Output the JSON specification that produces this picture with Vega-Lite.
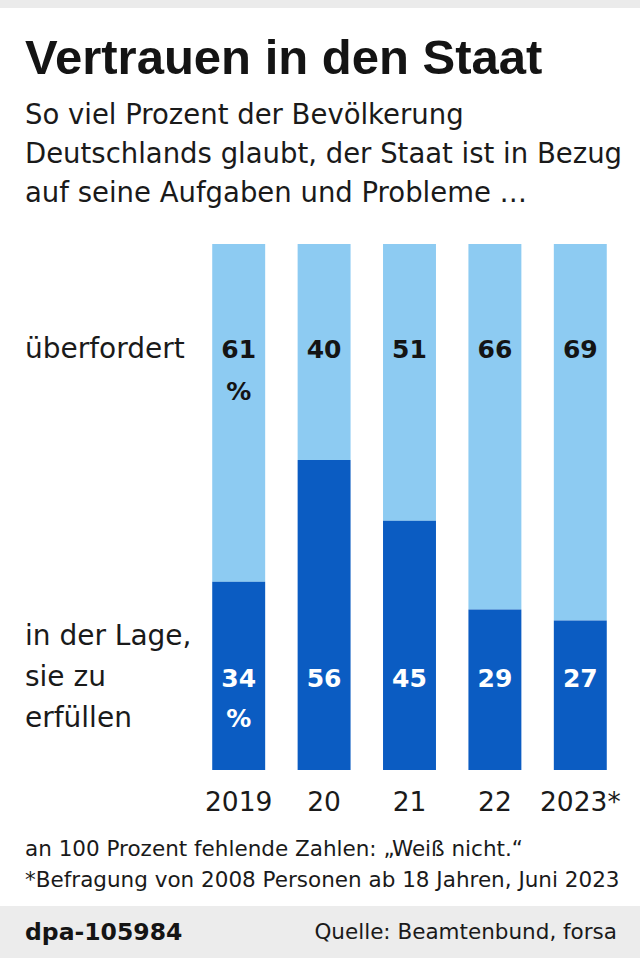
{
  "$schema": "https://vega.github.io/schema/vega-lite/v6.json",
  "padding": 0,
  "background": "white",
  "spacing": 17,
  "config": {"view": {"stroke": null}, "font": "DejaVu Sans"},
  "vconcat": [
    {
      "width": 640,
      "height": 8,
      "data": {"values": [{"band": "top"}]},
      "mark": {"type": "rect", "color": "#ebebeb"},
      "encoding": {},
      "title": {
        "text": "Vertrauen in den Staat",
        "orient": "bottom",
        "anchor": "start",
        "frame": "group",
        "dx": 25,
        "offset": 27,
        "baseline": "top",
        "font": "Liberation Sans",
        "fontSize": 49,
        "fontWeight": "bold",
        "color": "#141414"
      }
    },
    {
      "title": {
        "text": ["So viel Prozent der Bevölkerung", "Deutschlands glaubt, der Staat ist in Bezug", "auf seine Aufgaben und Probleme …"],
        "anchor": "start",
        "frame": "group",
        "dx": 25,
        "offset": 37,
        "baseline": "top",
        "font": "DejaVu Sans",
        "fontSize": 27.5,
        "fontWeight": "normal",
        "lineHeight": 39,
        "color": "#1a1a1a"
      },
      "spacing": 0,
      "hconcat": [
        {
          "width": 196,
          "height": 526,
          "layer": [
            {
              "data": {"values": [{"label": "überfordert"}]},
              "mark": {"type": "text", "align": "left", "baseline": "alphabetic", "fontSize": 28, "color": "#1a1a1a", "font": "DejaVu Sans"},
              "encoding": {
                "text": {"field": "label"},
                "x": {"datum": 0, "type": "quantitative", "scale": {"domain": [0, 1], "range": [25, 196]}, "axis": null},
                "y": {"datum": 74.4, "type": "quantitative", "scale": {"domain": [0, 95], "nice": false}, "axis": null}
              }
            },
            {
              "data": {"values": [{"label": "in der Lage,|sie zu|erfüllen"}]},
              "mark": {"type": "text", "align": "left", "baseline": "alphabetic", "fontSize": 28, "color": "#1a1a1a", "font": "DejaVu Sans", "lineBreak": "|", "lineHeight": 41},
              "encoding": {
                "text": {"field": "label"},
                "x": {"datum": 0, "type": "quantitative", "scale": {"domain": [0, 1], "range": [25, 196]}, "axis": null},
                "y": {"datum": 22.6, "type": "quantitative", "scale": {"domain": [0, 95], "nice": false}, "axis": null}
              }
            }
          ]
        },
        {
          "width": 427,
          "height": 526,
          "data": {"values": [
            {"year": "2019", "lage": 34, "ueber": 61},
            {"year": "20", "lage": 56, "ueber": 40},
            {"year": "21", "lage": 45, "ueber": 51},
            {"year": "22", "lage": 29, "ueber": 66},
            {"year": "2023*", "lage": 27, "ueber": 69}
          ]},
          "encoding": {
            "x": {
              "field": "year",
              "type": "nominal",
              "sort": null,
              "scale": {"paddingInner": 0.38, "paddingOuter": 0.19},
              "axis": {"orient": "bottom", "title": null, "labelAngle": 0, "domain": false, "ticks": false, "labelPadding": 19, "labelFontSize": 26.5, "labelFont": "DejaVu Sans", "labelColor": "#1a1a1a", "minExtent": 51}
            }
          },
          "layer": [
            {
              "mark": {"type": "bar", "color": "#8dcbf2"},
              "encoding": {
                "y": {"field": "lage", "type": "quantitative", "stack": null, "scale": {"domain": [0, 95], "nice": false}, "axis": null},
                "y2": {"datum": 95}
              }
            },
            {
              "mark": {"type": "bar", "color": "#0b5cc2"},
              "encoding": {
                "y": {"field": "lage", "type": "quantitative", "stack": null},
                "y2": {"datum": 0}
              }
            },
            {
              "mark": {"type": "text", "fontWeight": "bold", "fontSize": 25, "color": "#141414", "baseline": "alphabetic", "font": "DejaVu Sans"},
              "encoding": {"text": {"field": "ueber"}, "y": {"datum": 74.4, "type": "quantitative"}}
            },
            {
              "transform": [{"filter": "datum.year == '2019'"}],
              "mark": {"type": "text", "fontWeight": "bold", "fontSize": 25, "color": "#141414", "baseline": "alphabetic", "font": "DejaVu Sans"},
              "encoding": {"text": {"value": "%"}, "y": {"datum": 66.8, "type": "quantitative"}}
            },
            {
              "mark": {"type": "text", "fontWeight": "bold", "fontSize": 25, "color": "white", "baseline": "alphabetic", "font": "DejaVu Sans"},
              "encoding": {"text": {"field": "lage"}, "y": {"datum": 15, "type": "quantitative"}}
            },
            {
              "transform": [{"filter": "datum.year == '2019'"}],
              "mark": {"type": "text", "fontWeight": "bold", "fontSize": 25, "color": "white", "baseline": "alphabetic", "font": "DejaVu Sans"},
              "encoding": {"text": {"value": "%"}, "y": {"datum": 7.8, "type": "quantitative"}}
            }
          ]
        }
      ]
    },
    {
      "width": 640,
      "height": 53,
      "view": {"fill": "#ececec", "stroke": null},
      "title": {
        "text": ["an 100 Prozent fehlende Zahlen: „Weiß nicht.“", "*Befragung von 2008 Personen ab 18 Jahren, Juni 2023"],
        "anchor": "start",
        "frame": "group",
        "dx": 25,
        "offset": 15,
        "baseline": "top",
        "font": "DejaVu Sans",
        "fontSize": 21.5,
        "fontWeight": "normal",
        "lineHeight": 31,
        "color": "#1a1a1a"
      },
      "layer": [
        {
          "data": {"values": [{"credit": "dpa-105984"}]},
          "mark": {"type": "text", "align": "left", "baseline": "middle", "fontWeight": "bold", "fontSize": 23.5, "color": "#141414", "font": "DejaVu Sans"},
          "encoding": {
            "text": {"field": "credit"},
            "x": {"datum": 0, "type": "quantitative", "scale": {"domain": [0, 1], "range": [25, 617]}, "axis": null}
          }
        },
        {
          "data": {"values": [{"source": "Quelle: Beamtenbund, forsa"}]},
          "mark": {"type": "text", "align": "right", "baseline": "middle", "fontSize": 21.5, "color": "#1a1a1a", "font": "DejaVu Sans"},
          "encoding": {
            "text": {"field": "source"},
            "x": {"datum": 1, "type": "quantitative", "scale": {"domain": [0, 1], "range": [25, 617]}, "axis": null}
          }
        }
      ]
    }
  ]
}
